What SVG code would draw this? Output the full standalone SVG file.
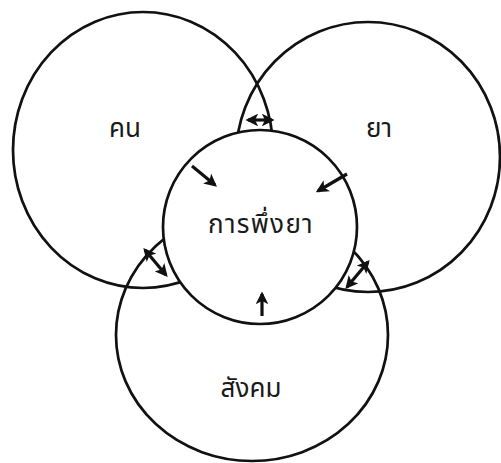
<svg xmlns="http://www.w3.org/2000/svg" width="501" height="463" viewBox="0 0 501 463">
<style>
.ring{fill:none;stroke:#111;stroke-width:2.7}
.core{fill:#fff;stroke:#111;stroke-width:2.7}
.lbl{font-family:"Noto Sans Thai","Noto Sans Thai UI","Loma","Garuda","Norasi","Tlwg Typo","Kinnari","Waree",sans-serif;font-size:26px;fill:#1a1a1a;text-anchor:middle}
.arr{stroke:#111;stroke-width:3.2;fill:none;stroke-linecap:butt}
</style>
<defs>
<marker id="ah" viewBox="0 0 10 10" refX="8" refY="5" markerWidth="4" markerHeight="4" orient="auto-start-reverse">
<path d="M0,0 L10,5 L0,10 L2.5,5 z" fill="#111"/>
</marker>
</defs>
<rect width="501" height="463" fill="#fff"/>
<g id="node-people">
<ellipse class="ring" cx="143" cy="150" rx="130" ry="138"/>
<text class="lbl" x="125" y="137">คน</text>
</g>
<g id="node-drug">
<ellipse class="ring" cx="368" cy="157" rx="132" ry="135"/>
<text class="lbl" x="379" y="137">ยา</text>
</g>
<g id="node-society">
<ellipse class="ring" cx="252" cy="335" rx="136" ry="126"/>
<text class="lbl" x="251" y="397">สังคม</text>
</g>
<g id="node-dependence">
<circle class="core" cx="260" cy="227" r="97"/>
<text class="lbl" x="261" y="233" letter-spacing="1.3">การพึ่งยา</text>
</g>
<g id="connectors">
<line class="arr" x1="248" y1="120" x2="272" y2="120" marker-start="url(#ah)" marker-end="url(#ah)"/>
<line class="arr" x1="192" y1="166" x2="215" y2="185" marker-end="url(#ah)"/>
<line class="arr" x1="347" y1="174" x2="318" y2="191" marker-end="url(#ah)"/>
<line class="arr" x1="262" y1="316" x2="262" y2="294" marker-end="url(#ah)"/>
<line class="arr" x1="145" y1="250" x2="166" y2="275" marker-start="url(#ah)" marker-end="url(#ah)"/>
<line class="arr" x1="368" y1="262" x2="347" y2="287" marker-start="url(#ah)" marker-end="url(#ah)"/>
</g>
</svg>
